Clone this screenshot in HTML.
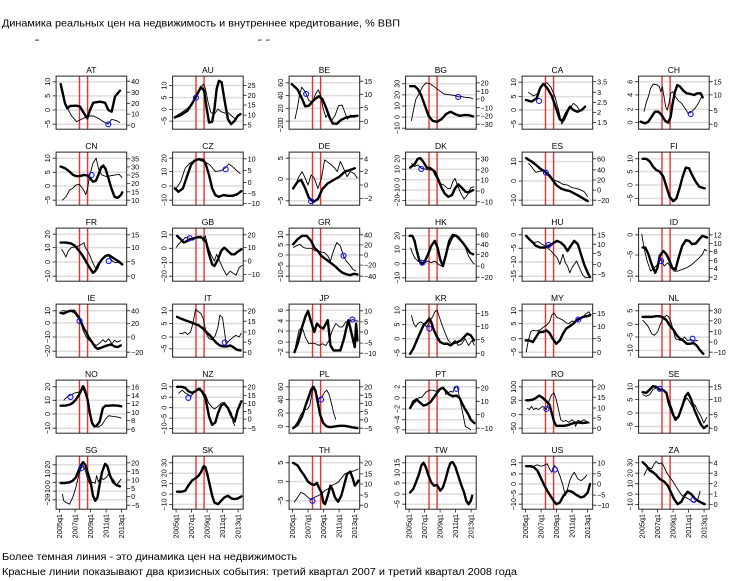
<!DOCTYPE html>
<html><head><meta charset="utf-8"><style>
html,body{margin:0;padding:0;background:#fff}
svg{display:block}
text{font-family:"Liberation Sans",sans-serif;fill:#000}
.t{font-size:8.5px;text-anchor:middle}
.g{stroke:#dcdcdc;stroke-width:1.5;fill:none}
.r{stroke:#f03030;stroke-width:1.4;fill:none}
.b{fill:none;stroke:#222;stroke-width:1}
.k{stroke:#222;stroke-width:0.8;fill:none}
.yl text{font-size:7.2px;text-anchor:middle}
.yr text{font-size:7.2px}
.xl text{font-size:7.3px;text-anchor:end}
.tc{fill:none;stroke:#000;stroke-width:2.4;vector-effect:non-scaling-stroke;stroke-linejoin:round;stroke-linecap:round}
.tn{fill:none;stroke:#000;stroke-width:0.9;vector-effect:non-scaling-stroke;stroke-linejoin:round}
.ci{fill:none;stroke:#1010ff;stroke-width:1.1;vector-effect:non-scaling-stroke}
</style></head><body>
<svg width="733" height="581" viewBox="0 0 733 581" xmlns="http://www.w3.org/2000/svg">
<rect width="733" height="581" fill="#fff"/>
<text x="2" y="26.5" font-size="10.3" textLength="398" lengthAdjust="spacingAndGlyphs">Динамика реальных цен на недвижимость и внутреннее кредитование, % ВВП</text>
<rect x="35" y="39.5" width="4" height="1.2" fill="#555"/>
<rect x="258" y="39.5" width="3.5" height="1.2" fill="#555"/>
<rect x="266" y="39.5" width="3.5" height="1.2" fill="#555"/>

<!-- ROW 0 -->
<g transform="translate(56.1,0)"><text class="t" x="35.3" y="72.9">AT</text>
<path class="g" d="M0 81.8H70.6M0 95.9H70.6M0 110H70.6M0 124.2H70.6"/>
<path class="r" d="M23.4 76.1V129.2M31.5 76.1V129.2"/>
<rect class="b" x="0" y="76.1" width="70.6" height="53.1"/>
<path class="k" d="M0 81.8h-3.5M0 95.9h-3.5M0 110h-3.5M0 124.2h-3.5M70.6 81.2h3.5M70.6 92.2h3.5M70.6 103.3h3.5M70.6 114.1h3.5M70.6 125.2h3.5"/>
<g class="yl"><text transform="translate(-6.3,81.8) rotate(-90)">10</text><text transform="translate(-6.3,95.9) rotate(-90)">5</text><text transform="translate(-6.3,110) rotate(-90)">0</text><text transform="translate(-6.3,124.2) rotate(-90)">−5</text></g>
<g class="yr"><text x="75" y="83.8">40</text><text x="75" y="94.8">30</text><text x="75" y="105.9">20</text><text x="75" y="116.7">10</text><text x="75" y="127.8">0</text></g></g>

<g transform="translate(172.6,0)"><text class="t" x="35.3" y="72.9">AU</text>
<path class="g" d="M0 85.5H70.6M0 97.6H70.6M0 109.4H70.6M0 121.1H70.6"/>
<path class="r" d="M23.4 76.1V129.2M31.5 76.1V129.2"/>
<rect class="b" x="0" y="76.1" width="70.6" height="53.1"/>
<path class="k" d="M0 85.5h-3.5M0 97.6h-3.5M0 109.4h-3.5M0 121.1h-3.5M70.6 85.5h3.5M70.6 95.3h3.5M70.6 105h3.5M70.6 115.1h3.5M70.6 124.8h3.5"/>
<g class="yl"><text transform="translate(-6.3,85.5) rotate(-90)">10</text><text transform="translate(-6.3,97.6) rotate(-90)">5</text><text transform="translate(-6.3,109.4) rotate(-90)">0</text><text transform="translate(-6.3,121.1) rotate(-90)">−5</text></g>
<g class="yr"><text x="75" y="88.1">25</text><text x="75" y="97.9">20</text><text x="75" y="107.6">15</text><text x="75" y="117.7">10</text><text x="75" y="127.4">5</text></g></g>

<g transform="translate(289.1,0)"><text class="t" x="35.3" y="72.9">BE</text>
<path class="g" d="M0 82.8H70.6M0 95.6H70.6M0 108.4H70.6M0 121.1H70.6"/>
<path class="r" d="M23.4 76.1V129.2M31.5 76.1V129.2"/>
<rect class="b" x="0" y="76.1" width="70.6" height="53.1"/>
<path class="k" d="M0 82.8h-3.5M0 95.6h-3.5M0 108.4h-3.5M0 121.1h-3.5M70.6 81.2h3.5M70.6 94.3h3.5M70.6 107.7h3.5M70.6 121.5h3.5"/>
<g class="yl"><text transform="translate(-6.3,82.8) rotate(-90)">60</text><text transform="translate(-6.3,95.6) rotate(-90)">40</text><text transform="translate(-6.3,108.4) rotate(-90)">20</text><text transform="translate(-6.3,119.5) rotate(-90)">0</text><text transform="translate(-6.3,126.5) rotate(-90)">−20</text></g>
<g class="yr"><text x="75" y="83.8">15</text><text x="75" y="96.9">10</text><text x="75" y="110.3">5</text><text x="75" y="124.1">0</text></g></g>

<g transform="translate(405.6,0)"><text class="t" x="35.3" y="72.9">BG</text>
<path class="g" d="M0 83.8H70.6M0 94.9H70.6M0 106H70.6M0 117.1H70.6M0 128.2H70.6"/>
<path class="r" d="M23.4 76.1V129.2M31.5 76.1V129.2"/>
<rect class="b" x="0" y="76.1" width="70.6" height="53.1"/>
<path class="k" d="M0 83.8h-3.5M0 94.9h-3.5M0 106h-3.5M0 117.1h-3.5M0 128.2h-3.5M70.6 82.8h3.5M70.6 91.2h3.5M70.6 99h3.5M70.6 107.7h3.5M70.6 115.8h3.5M70.6 124.2h3.5"/>
<g class="yl"><text transform="translate(-6.3,83.8) rotate(-90)">30</text><text transform="translate(-6.3,94.9) rotate(-90)">20</text><text transform="translate(-6.3,106) rotate(-90)">10</text><text transform="translate(-6.3,117.1) rotate(-90)">0</text><text transform="translate(-6.3,128.2) rotate(-90)">−10</text></g>
<g class="yr"><text x="75" y="85.4">20</text><text x="75" y="93.8">10</text><text x="75" y="101.6">0</text><text x="75" y="110.3">−10</text><text x="75" y="118.4">−20</text><text x="75" y="126.8">−30</text></g></g>

<g transform="translate(522.1,0)"><text class="t" x="35.3" y="72.9">CA</text>
<path class="g" d="M0 82.2H70.6M0 96.6H70.6M0 110H70.6M0 124.2H70.6"/>
<path class="r" d="M23.4 76.1V129.2M31.5 76.1V129.2"/>
<rect class="b" x="0" y="76.1" width="70.6" height="53.1"/>
<path class="k" d="M0 82.2h-3.5M0 96.6h-3.5M0 110h-3.5M0 124.2h-3.5M70.6 81.7h3.5M70.6 92.2h3.5M70.6 102.3h3.5M70.6 112.4h3.5M70.6 122.5h3.5"/>
<g class="yl"><text transform="translate(-6.3,82.2) rotate(-90)">10</text><text transform="translate(-6.3,96.6) rotate(-90)">5</text><text transform="translate(-6.3,110) rotate(-90)">0</text><text transform="translate(-6.3,124.2) rotate(-90)">−5</text></g>
<g class="yr"><text x="75" y="84.3">3.5</text><text x="75" y="94.8">3</text><text x="75" y="104.9">2.5</text><text x="75" y="115">2</text><text x="75" y="125.1">1.5</text></g></g>

<g transform="translate(638.6,0)"><text class="t" x="35.3" y="72.9">CH</text>
<path class="g" d="M0 81.7H70.6M0 94.9H70.6M0 109.4H70.6M0 122.5H70.6"/>
<path class="r" d="M23.4 76.1V129.2M31.5 76.1V129.2"/>
<rect class="b" x="0" y="76.1" width="70.6" height="53.1"/>
<path class="k" d="M0 81.7h-3.5M0 94.9h-3.5M0 109.4h-3.5M0 122.5h-3.5M70.6 81.7h3.5M70.6 94.9h3.5M70.6 110.4h3.5M70.6 124.2h3.5"/>
<g class="yl"><text transform="translate(-6.3,81.7) rotate(-90)">6</text><text transform="translate(-6.3,94.9) rotate(-90)">4</text><text transform="translate(-6.3,109.4) rotate(-90)">2</text><text transform="translate(-6.3,122.5) rotate(-90)">0</text></g>
<g class="yr"><text x="75" y="84.3">15</text><text x="75" y="97.5">10</text><text x="75" y="113">5</text><text x="75" y="126.8">0</text></g></g>

<!-- ROW 1 -->
<g transform="translate(56.1,0)"><text class="t" x="35.3" y="148.9">CN</text>
<path class="g" d="M0 158.2H70.6M0 172.3H70.6M0 186H70.6M0 200.2H70.6"/>
<path class="r" d="M23.4 152.1V205.2M31.5 152.1V205.2"/>
<rect class="b" x="0" y="152.1" width="70.6" height="53.1"/>
<path class="k" d="M0 158.2h-3.5M0 172.3h-3.5M0 186h-3.5M0 200.2h-3.5M70.6 158.8h3.5M70.6 166.9h3.5M70.6 175h3.5M70.6 183.4h3.5M70.6 191.8h3.5M70.6 200.2h3.5"/>
<g class="yl"><text transform="translate(-6.3,158.2) rotate(-90)">10</text><text transform="translate(-6.3,172.3) rotate(-90)">5</text><text transform="translate(-6.3,186) rotate(-90)">0</text><text transform="translate(-6.3,200.2) rotate(-90)">−5</text></g>
<g class="yr"><text x="75" y="161.4">35</text><text x="75" y="169.5">30</text><text x="75" y="177.6">25</text><text x="75" y="186">20</text><text x="75" y="194.4">15</text><text x="75" y="202.8">10</text></g></g>

<g transform="translate(172.6,0)"><text class="t" x="35.3" y="148.9">CZ</text>
<path class="g" d="M0 158.2H70.6M0 171.6H70.6M0 186H70.6M0 200.2H70.6"/>
<path class="r" d="M23.4 152.1V205.2M31.5 152.1V205.2"/>
<rect class="b" x="0" y="152.1" width="70.6" height="53.1"/>
<path class="k" d="M0 158.2h-3.5M0 171.6h-3.5M0 186h-3.5M0 200.2h-3.5M70.6 158.8h3.5M70.6 170.6h3.5M70.6 182.4h3.5M70.6 193.4h3.5M70.6 203.5h3.5"/>
<g class="yl"><text transform="translate(-6.3,158.2) rotate(-90)">20</text><text transform="translate(-6.3,171.6) rotate(-90)">10</text><text transform="translate(-6.3,186) rotate(-90)">0</text><text transform="translate(-6.3,200.2) rotate(-90)">−10</text></g>
<g class="yr"><text x="75" y="161.4">10</text><text x="75" y="173.2">5</text><text x="75" y="185">0</text><text x="75" y="196">−5</text><text x="75" y="206.1">−10</text></g></g>

<g transform="translate(289.1,0)"><text class="t" x="35.3" y="148.9">DE</text>
<path class="g" d="M0 158.2H70.6M0 179H70.6M0 200.8H70.6"/>
<path class="r" d="M23.4 152.1V205.2M31.5 152.1V205.2"/>
<rect class="b" x="0" y="152.1" width="70.6" height="53.1"/>
<path class="k" d="M0 158.2h-3.5M0 179h-3.5M0 200.8h-3.5M70.6 158.8h3.5M70.6 171.6h3.5M70.6 185h3.5M70.6 198.5h3.5"/>
<g class="yl"><text transform="translate(-6.3,158.2) rotate(-90)">5</text><text transform="translate(-6.3,179) rotate(-90)">0</text><text transform="translate(-6.3,200.8) rotate(-90)">−5</text></g>
<g class="yr"><text x="75" y="161.4">4</text><text x="75" y="174.2">2</text><text x="75" y="187.6">0</text><text x="75" y="201.1">−2</text></g></g>

<g transform="translate(405.6,0)"><text class="t" x="35.3" y="148.9">DK</text>
<path class="g" d="M0 158.8H70.6M0 169.2H70.6M0 179.7H70.6M0 190.1H70.6M0 200.5H70.6"/>
<path class="r" d="M23.4 152.1V205.2M31.5 152.1V205.2"/>
<rect class="b" x="0" y="152.1" width="70.6" height="53.1"/>
<path class="k" d="M0 158.8h-3.5M0 169.2h-3.5M0 179.7h-3.5M0 190.1h-3.5M0 200.5h-3.5M70.6 158.8h3.5M70.6 169.9h3.5M70.6 180h3.5M70.6 191.1h3.5M70.6 201.8h3.5"/>
<g class="yl"><text transform="translate(-6.3,158.8) rotate(-90)">20</text><text transform="translate(-6.3,169.2) rotate(-90)">10</text><text transform="translate(-6.3,179.7) rotate(-90)">0</text><text transform="translate(-6.3,190.1) rotate(-90)">−10</text><text transform="translate(-6.3,200.5) rotate(-90)">−20</text></g>
<g class="yr"><text x="75" y="161.4">30</text><text x="75" y="172.5">20</text><text x="75" y="182.6">10</text><text x="75" y="193.7">0</text><text x="75" y="204.4">−10</text></g></g>

<g transform="translate(522.1,0)"><text class="t" x="35.3" y="148.9">ES</text>
<path class="g" d="M0 161.5H70.6M0 181H70.6M0 200.2H70.6"/>
<path class="r" d="M23.4 152.1V205.2M31.5 152.1V205.2"/>
<rect class="b" x="0" y="152.1" width="70.6" height="53.1"/>
<path class="k" d="M0 161.5h-3.5M0 181h-3.5M0 200.2h-3.5M70.6 158.8h3.5M70.6 169.9h3.5M70.6 180h3.5M70.6 190.1h3.5M70.6 200.2h3.5"/>
<g class="yl"><text transform="translate(-6.3,161.5) rotate(-90)">10</text><text transform="translate(-6.3,181) rotate(-90)">0</text><text transform="translate(-6.3,200.2) rotate(-90)">−10</text></g>
<g class="yr"><text x="75" y="161.4">60</text><text x="75" y="172.5">40</text><text x="75" y="182.6">20</text><text x="75" y="192.7">0</text><text x="75" y="202.8">−20</text></g></g>

<g transform="translate(638.6,0)"><text class="t" x="35.3" y="148.9">FI</text>
<path class="g" d="M0 158.8H70.6M0 171.6H70.6M0 185H70.6M0 198.5H70.6"/>
<path class="r" d="M23.4 152.1V205.2M31.5 152.1V205.2"/>
<rect class="b" x="0" y="152.1" width="70.6" height="53.1"/>
<path class="k" d="M0 158.8h-3.5M0 171.6h-3.5M0 185h-3.5M0 198.5h-3.5"/>
<g class="yl"><text transform="translate(-6.3,158.8) rotate(-90)">10</text><text transform="translate(-6.3,171.6) rotate(-90)">5</text><text transform="translate(-6.3,185) rotate(-90)">0</text><text transform="translate(-6.3,198.5) rotate(-90)">−5</text></g></g>

<!-- ROW 2 -->
<g transform="translate(56.1,0)"><text class="t" x="35.3" y="224.9">FR</text>
<path class="g" d="M0 234.2H70.6M0 247.6H70.6M0 262H70.6M0 276.2H70.6"/>
<path class="r" d="M23.4 228.1V281.2M31.5 228.1V281.2"/>
<rect class="b" x="0" y="228.1" width="70.6" height="53.1"/>
<path class="k" d="M0 234.2h-3.5M0 247.6h-3.5M0 262h-3.5M0 276.2h-3.5M70.6 234.8h3.5M70.6 247.6h3.5M70.6 261.7h3.5M70.6 276.2h3.5"/>
<g class="yl"><text transform="translate(-6.3,234.2) rotate(-90)">20</text><text transform="translate(-6.3,247.6) rotate(-90)">10</text><text transform="translate(-6.3,262) rotate(-90)">0</text><text transform="translate(-6.3,276.2) rotate(-90)">−10</text></g>
<g class="yr"><text x="75" y="237.4">15</text><text x="75" y="250.2">10</text><text x="75" y="264.3">5</text><text x="75" y="278.8">0</text></g></g>

<g transform="translate(172.6,0)"><text class="t" x="35.3" y="224.9">GB</text>
<path class="g" d="M0 234.8H70.6M0 248.3H70.6M0 262.7H70.6M0 276.2H70.6"/>
<path class="r" d="M23.4 228.1V281.2M31.5 228.1V281.2"/>
<rect class="b" x="0" y="228.1" width="70.6" height="53.1"/>
<path class="k" d="M0 234.8h-3.5M0 248.3h-3.5M0 262.7h-3.5M0 276.2h-3.5M70.6 234.8h3.5M70.6 247.6h3.5M70.6 261h3.5M70.6 274.5h3.5"/>
<g class="yl"><text transform="translate(-6.3,234.8) rotate(-90)">10</text><text transform="translate(-6.3,248.3) rotate(-90)">0</text><text transform="translate(-6.3,262.7) rotate(-90)">−10</text><text transform="translate(-6.3,276.2) rotate(-90)">−20</text></g>
<g class="yr"><text x="75" y="237.4">20</text><text x="75" y="250.2">10</text><text x="75" y="263.6">0</text><text x="75" y="277.1">−10</text></g></g>

<g transform="translate(289.1,0)"><text class="t" x="35.3" y="224.9">GR</text>
<path class="g" d="M0 234.8H70.6M0 244.9H70.6M0 255H70.6M0 266.1H70.6M0 276.2H70.6"/>
<path class="r" d="M23.4 228.1V281.2M31.5 228.1V281.2"/>
<rect class="b" x="0" y="228.1" width="70.6" height="53.1"/>
<path class="k" d="M0 234.8h-3.5M0 244.9h-3.5M0 255h-3.5M0 266.1h-3.5M0 276.2h-3.5M70.6 234.8h3.5M70.6 244.9h3.5M70.6 255h3.5M70.6 265.1h3.5M70.6 276.2h3.5"/>
<g class="yl"><text transform="translate(-6.3,234.8) rotate(-90)">10</text><text transform="translate(-6.3,244.9) rotate(-90)">5</text><text transform="translate(-6.3,255) rotate(-90)">0</text><text transform="translate(-6.3,266.1) rotate(-90)">−5</text><text transform="translate(-6.3,276.2) rotate(-90)">−10</text></g>
<g class="yr"><text x="75" y="237.4">40</text><text x="75" y="247.5">20</text><text x="75" y="257.6">0</text><text x="75" y="267.7">−20</text><text x="75" y="278.8">−40</text></g></g>

<g transform="translate(405.6,0)"><text class="t" x="35.3" y="224.9">HK</text>
<path class="g" d="M0 235.8H70.6M0 249.3H70.6M0 263.7H70.6M0 277.8H70.6"/>
<path class="r" d="M23.4 228.1V281.2M31.5 228.1V281.2"/>
<rect class="b" x="0" y="228.1" width="70.6" height="53.1"/>
<path class="k" d="M0 235.8h-3.5M0 249.3h-3.5M0 263.7h-3.5M0 277.8h-3.5M70.6 234.8h3.5M70.6 244.2h3.5M70.6 254.3h3.5M70.6 266.1h3.5M70.6 277.2h3.5"/>
<g class="yl"><text transform="translate(-6.3,235.8) rotate(-90)">20</text><text transform="translate(-6.3,249.3) rotate(-90)">10</text><text transform="translate(-6.3,263.7) rotate(-90)">0</text><text transform="translate(-6.3,277.8) rotate(-90)">−10</text></g>
<g class="yr"><text x="75" y="237.4">60</text><text x="75" y="246.8">40</text><text x="75" y="256.9">20</text><text x="75" y="268.7">0</text><text x="75" y="279.8">−20</text></g></g>

<g transform="translate(522.1,0)"><text class="t" x="35.3" y="224.9">HU</text>
<path class="g" d="M0 234.8H70.6M0 248.3H70.6M0 262H70.6M0 276.2H70.6"/>
<path class="r" d="M23.4 228.1V281.2M31.5 228.1V281.2"/>
<rect class="b" x="0" y="228.1" width="70.6" height="53.1"/>
<path class="k" d="M0 234.8h-3.5M0 248.3h-3.5M0 262h-3.5M0 276.2h-3.5M70.6 234.8h3.5M70.6 244.2h3.5M70.6 253.6h3.5M70.6 264.4h3.5M70.6 274.5h3.5"/>
<g class="yl"><text transform="translate(-6.3,234.8) rotate(-90)">0</text><text transform="translate(-6.3,248.3) rotate(-90)">−5</text><text transform="translate(-6.3,262) rotate(-90)">−10</text><text transform="translate(-6.3,276.2) rotate(-90)">−15</text></g>
<g class="yr"><text x="75" y="237.4">15</text><text x="75" y="246.8">10</text><text x="75" y="256.2">5</text><text x="75" y="267">0</text><text x="75" y="277.1">−5</text></g></g>

<g transform="translate(638.6,0)"><text class="t" x="35.3" y="224.9">ID</text>
<path class="g" d="M0 234.8H70.6M0 255H70.6M0 276.2H70.6"/>
<path class="r" d="M23.4 228.1V281.2M31.5 228.1V281.2"/>
<rect class="b" x="0" y="228.1" width="70.6" height="53.1"/>
<path class="k" d="M0 234.8h-3.5M0 255h-3.5M0 276.2h-3.5M70.6 234.8h3.5M70.6 243.6h3.5M70.6 251.6h3.5M70.6 260.4h3.5M70.6 268.4h3.5M70.6 277.2h3.5"/>
<g class="yl"><text transform="translate(-6.3,234.8) rotate(-90)">0</text><text transform="translate(-6.3,255) rotate(-90)">−5</text><text transform="translate(-6.3,276.2) rotate(-90)">−10</text></g>
<g class="yr"><text x="75" y="237.4">12</text><text x="75" y="246.2">10</text><text x="75" y="254.2">8</text><text x="75" y="263">6</text><text x="75" y="271">4</text><text x="75" y="279.8">2</text></g></g>

<!-- ROW 3 -->
<g transform="translate(56.1,0)"><text class="t" x="35.3" y="300.9">IE</text>
<path class="g" d="M0 310.8H70.6M0 322.9H70.6M0 337H70.6M0 351.2H70.6"/>
<path class="r" d="M23.4 304.1V357.2M31.5 304.1V357.2"/>
<rect class="b" x="0" y="304.1" width="70.6" height="53.1"/>
<path class="k" d="M0 310.8h-3.5M0 322.9h-3.5M0 337h-3.5M0 351.2h-3.5M70.6 310.8h3.5M70.6 323.6h3.5M70.6 337h3.5M70.6 352.2h3.5"/>
<g class="yl"><text transform="translate(-6.3,310.8) rotate(-90)">10</text><text transform="translate(-6.3,322.9) rotate(-90)">0</text><text transform="translate(-6.3,337) rotate(-90)">−10</text><text transform="translate(-6.3,351.2) rotate(-90)">−20</text></g>
<g class="yr"><text x="75" y="313.4">40</text><text x="75" y="326.2">20</text><text x="75" y="339.6">0</text><text x="75" y="354.8">−20</text></g></g>

<g transform="translate(172.6,0)"><text class="t" x="35.3" y="300.9">IT</text>
<path class="g" d="M0 310.8H70.6M0 323.6H70.6M0 337H70.6M0 348.8H70.6"/>
<path class="r" d="M23.4 304.1V357.2M31.5 304.1V357.2"/>
<rect class="b" x="0" y="304.1" width="70.6" height="53.1"/>
<path class="k" d="M0 310.8h-3.5M0 323.6h-3.5M0 337h-3.5M0 348.8h-3.5M70.6 310.8h3.5M70.6 321.2h3.5M70.6 332h3.5M70.6 342.1h3.5M70.6 352.2h3.5"/>
<g class="yl"><text transform="translate(-6.3,310.8) rotate(-90)">10</text><text transform="translate(-6.3,323.6) rotate(-90)">5</text><text transform="translate(-6.3,337) rotate(-90)">0</text><text transform="translate(-6.3,348.8) rotate(-90)">−5</text></g>
<g class="yr"><text x="75" y="313.4">20</text><text x="75" y="323.8">15</text><text x="75" y="334.6">10</text><text x="75" y="344.7">5</text><text x="75" y="354.8">0</text></g></g>

<g transform="translate(289.1,0)"><text class="t" x="35.3" y="300.9">JP</text>
<path class="g" d="M0 310.2H70.6M0 320.9H70.6M0 331H70.6M0 342.1H70.6M0 352.2H70.6"/>
<path class="r" d="M23.4 304.1V357.2M31.5 304.1V357.2"/>
<rect class="b" x="0" y="304.1" width="70.6" height="53.1"/>
<path class="k" d="M0 310.2h-3.5M0 320.9h-3.5M0 331h-3.5M0 342.1h-3.5M0 352.2h-3.5M70.6 310.8h3.5M70.6 321.9h3.5M70.6 332h3.5M70.6 343.1h3.5M70.6 353.2h3.5"/>
<g class="yl"><text transform="translate(-6.3,310.2) rotate(-90)">6</text><text transform="translate(-6.3,320.9) rotate(-90)">4</text><text transform="translate(-6.3,331) rotate(-90)">2</text><text transform="translate(-6.3,342.1) rotate(-90)">0</text><text transform="translate(-6.3,352.2) rotate(-90)">−2</text></g>
<g class="yr"><text x="75" y="313.4">10</text><text x="75" y="324.5">5</text><text x="75" y="334.6">0</text><text x="75" y="345.7">−5</text><text x="75" y="355.8">−10</text></g></g>

<g transform="translate(405.6,0)"><text class="t" x="35.3" y="300.9">KR</text>
<path class="g" d="M0 310.2H70.6M0 324.6H70.6M0 338.7H70.6M0 353.2H70.6"/>
<path class="r" d="M23.4 304.1V357.2M31.5 304.1V357.2"/>
<rect class="b" x="0" y="304.1" width="70.6" height="53.1"/>
<path class="k" d="M0 310.2h-3.5M0 324.6h-3.5M0 338.7h-3.5M0 353.2h-3.5M70.6 313.5h3.5M70.6 326.3h3.5M70.6 339.7h3.5M70.6 353.2h3.5"/>
<g class="yl"><text transform="translate(-6.3,310.2) rotate(-90)">10</text><text transform="translate(-6.3,324.6) rotate(-90)">5</text><text transform="translate(-6.3,338.7) rotate(-90)">0</text><text transform="translate(-6.3,353.2) rotate(-90)">−5</text></g>
<g class="yr"><text x="75" y="316.1">15</text><text x="75" y="328.9">10</text><text x="75" y="342.3">5</text><text x="75" y="355.8">0</text></g></g>

<g transform="translate(522.1,0)"><text class="t" x="35.3" y="300.9">MY</text>
<path class="g" d="M0 310.8H70.6M0 323.6H70.6M0 338.7H70.6M0 352.2H70.6"/>
<path class="r" d="M23.4 304.1V357.2M31.5 304.1V357.2"/>
<rect class="b" x="0" y="304.1" width="70.6" height="53.1"/>
<path class="k" d="M0 310.8h-3.5M0 323.6h-3.5M0 338.7h-3.5M0 352.2h-3.5M70.6 313.5h3.5M70.6 326.3h3.5M70.6 338.7h3.5M70.6 352.2h3.5"/>
<g class="yl"><text transform="translate(-6.3,310.8) rotate(-90)">10</text><text transform="translate(-6.3,323.6) rotate(-90)">5</text><text transform="translate(-6.3,338.7) rotate(-90)">0</text><text transform="translate(-6.3,352.2) rotate(-90)">−5</text></g>
<g class="yr"><text x="75" y="316.1">15</text><text x="75" y="328.9">10</text><text x="75" y="341.3">5</text><text x="75" y="354.8">0</text></g></g>

<g transform="translate(638.6,0)"><text class="t" x="35.3" y="300.9">NL</text>
<path class="g" d="M0 310.8H70.6M0 324.3H70.6M0 337H70.6M0 350.5H70.6"/>
<path class="r" d="M23.4 304.1V357.2M31.5 304.1V357.2"/>
<rect class="b" x="0" y="304.1" width="70.6" height="53.1"/>
<path class="k" d="M0 310.8h-3.5M0 324.3h-3.5M0 337h-3.5M0 350.5h-3.5M70.6 310.8h3.5M70.6 320.9h3.5M70.6 331.7h3.5M70.6 342.1h3.5M70.6 352.2h3.5"/>
<g class="yl"><text transform="translate(-6.3,310.8) rotate(-90)">5</text><text transform="translate(-6.3,324.3) rotate(-90)">0</text><text transform="translate(-6.3,337) rotate(-90)">−5</text><text transform="translate(-6.3,350.5) rotate(-90)">−10</text></g>
<g class="yr"><text x="75" y="313.4">30</text><text x="75" y="323.5">20</text><text x="75" y="334.3">10</text><text x="75" y="344.7">0</text><text x="75" y="354.8">−10</text></g></g>

<!-- ROW 4 -->
<g transform="translate(56.1,0)"><text class="t" x="35.3" y="376.9">NO</text>
<path class="g" d="M0 386.8H70.6M0 400.3H70.6M0 414H70.6M0 428.2H70.6"/>
<path class="r" d="M23.4 380.1V433.2M31.5 380.1V433.2"/>
<rect class="b" x="0" y="380.1" width="70.6" height="53.1"/>
<path class="k" d="M0 386.8h-3.5M0 400.3h-3.5M0 414h-3.5M0 428.2h-3.5M70.6 386.8h3.5M70.6 395.6h3.5M70.6 403.6h3.5M70.6 412.4h3.5M70.6 420.4h3.5M70.6 429.2h3.5"/>
<g class="yl"><text transform="translate(-6.3,386.8) rotate(-90)">20</text><text transform="translate(-6.3,400.3) rotate(-90)">10</text><text transform="translate(-6.3,414) rotate(-90)">0</text><text transform="translate(-6.3,428.2) rotate(-90)">−10</text></g>
<g class="yr"><text x="75" y="389.4">16</text><text x="75" y="398.2">14</text><text x="75" y="406.2">12</text><text x="75" y="415">10</text><text x="75" y="423">8</text><text x="75" y="431.8">6</text></g></g>

<g transform="translate(172.6,0)"><text class="t" x="35.3" y="376.9">NZ</text>
<path class="g" d="M0 386.8H70.6M0 397.2H70.6M0 407.7H70.6M0 418.1H70.6M0 428.5H70.6"/>
<path class="r" d="M23.4 380.1V433.2M31.5 380.1V433.2"/>
<rect class="b" x="0" y="380.1" width="70.6" height="53.1"/>
<path class="k" d="M0 386.8h-3.5M0 397.2h-3.5M0 407.7h-3.5M0 418.1h-3.5M0 428.5h-3.5M70.6 386.8h3.5M70.6 395.6h3.5M70.6 403.6h3.5M70.6 411.4h3.5M70.6 419.1h3.5M70.6 428.2h3.5"/>
<g class="yl"><text transform="translate(-6.3,386.8) rotate(-90)">10</text><text transform="translate(-6.3,397.2) rotate(-90)">5</text><text transform="translate(-6.3,407.7) rotate(-90)">0</text><text transform="translate(-6.3,418.1) rotate(-90)">−5</text><text transform="translate(-6.3,428.5) rotate(-90)">−10</text></g>
<g class="yr"><text x="75" y="389.4">20</text><text x="75" y="398.2">15</text><text x="75" y="406.2">10</text><text x="75" y="414">5</text><text x="75" y="421.7">0</text><text x="75" y="430.8">−5</text></g></g>

<g transform="translate(289.1,0)"><text class="t" x="35.3" y="376.9">PL</text>
<path class="g" d="M0 386.8H70.6M0 399.6H70.6M0 413H70.6M0 426.5H70.6"/>
<path class="r" d="M23.4 380.1V433.2M31.5 380.1V433.2"/>
<rect class="b" x="0" y="380.1" width="70.6" height="53.1"/>
<path class="k" d="M0 386.8h-3.5M0 399.6h-3.5M0 413h-3.5M0 426.5h-3.5M70.6 386.8h3.5M70.6 395.2h3.5M70.6 403.3h3.5M70.6 411.7h3.5M70.6 419.8h3.5M70.6 428.2h3.5"/>
<g class="yl"><text transform="translate(-6.3,386.8) rotate(-90)">60</text><text transform="translate(-6.3,399.6) rotate(-90)">40</text><text transform="translate(-6.3,413) rotate(-90)">20</text><text transform="translate(-6.3,426.5) rotate(-90)">0</text></g>
<g class="yr"><text x="75" y="389.4">20</text><text x="75" y="397.8">15</text><text x="75" y="405.9">10</text><text x="75" y="414.3">5</text><text x="75" y="422.4">0</text><text x="75" y="430.8">−5</text></g></g>

<g transform="translate(405.6,0)"><text class="t" x="35.3" y="376.9">PT</text>
<path class="g" d="M0 386.8H70.6M0 397.9H70.6M0 409H70.6M0 419.8H70.6M0 429.8H70.6"/>
<path class="r" d="M23.4 380.1V433.2M31.5 380.1V433.2"/>
<rect class="b" x="0" y="380.1" width="70.6" height="53.1"/>
<path class="k" d="M0 386.8h-3.5M0 397.9h-3.5M0 409h-3.5M0 419.8h-3.5M0 429.8h-3.5M70.6 387.8h3.5M70.6 401.3h3.5M70.6 414.7h3.5M70.6 428.2h3.5"/>
<g class="yl"><text transform="translate(-6.3,386.8) rotate(-90)">2</text><text transform="translate(-6.3,397.9) rotate(-90)">0</text><text transform="translate(-6.3,409) rotate(-90)">−2</text><text transform="translate(-6.3,419.8) rotate(-90)">−4</text><text transform="translate(-6.3,429.8) rotate(-90)">−6</text></g>
<g class="yr"><text x="75" y="390.4">20</text><text x="75" y="403.9">10</text><text x="75" y="417.3">0</text><text x="75" y="430.8">−10</text></g></g>

<g transform="translate(522.1,0)"><text class="t" x="35.3" y="376.9">RO</text>
<path class="g" d="M0 386.8H70.6M0 400.3H70.6M0 414.7H70.6M0 428.2H70.6"/>
<path class="r" d="M23.4 380.1V433.2M31.5 380.1V433.2"/>
<rect class="b" x="0" y="380.1" width="70.6" height="53.1"/>
<path class="k" d="M0 386.8h-3.5M0 400.3h-3.5M0 414.7h-3.5M0 428.2h-3.5M70.6 386.8h3.5M70.6 397.2h3.5M70.6 408h3.5M70.6 418.1h3.5M70.6 428.2h3.5"/>
<g class="yl"><text transform="translate(-6.3,386.8) rotate(-90)">100</text><text transform="translate(-6.3,400.3) rotate(-90)">50</text><text transform="translate(-6.3,414.7) rotate(-90)">0</text><text transform="translate(-6.3,428.2) rotate(-90)">−50</text></g>
<g class="yr"><text x="75" y="389.4">20</text><text x="75" y="399.8">15</text><text x="75" y="410.6">10</text><text x="75" y="420.7">5</text><text x="75" y="430.8">0</text></g></g>

<g transform="translate(638.6,0)"><text class="t" x="35.3" y="376.9">SE</text>
<path class="g" d="M0 386.8H70.6M0 399.6H70.6M0 413H70.6M0 426.5H70.6"/>
<path class="r" d="M23.4 380.1V433.2M31.5 380.1V433.2"/>
<rect class="b" x="0" y="380.1" width="70.6" height="53.1"/>
<path class="k" d="M0 386.8h-3.5M0 399.6h-3.5M0 413h-3.5M0 426.5h-3.5M70.6 386.8h3.5M70.6 399.6h3.5M70.6 414.7h3.5M70.6 428.2h3.5"/>
<g class="yl"><text transform="translate(-6.3,386.8) rotate(-90)">10</text><text transform="translate(-6.3,399.6) rotate(-90)">5</text><text transform="translate(-6.3,413) rotate(-90)">0</text><text transform="translate(-6.3,426.5) rotate(-90)">−5</text></g>
<g class="yr"><text x="75" y="389.4">15</text><text x="75" y="402.2">10</text><text x="75" y="417.3">5</text><text x="75" y="430.8">0</text></g></g>

<!-- ROW 5 -->
<g transform="translate(56.1,0)"><text class="t" x="35.3" y="452.9">SG</text>
<path class="g" d="M0 464.8H70.6M0 473.6H70.6M0 482.3H70.6M0 491.1H70.6M0 499.8H70.6"/>
<path class="r" d="M23.4 456.1V509.2M31.5 456.1V509.2"/>
<rect class="b" x="0" y="456.1" width="70.6" height="53.1"/>
<path class="k" d="M0 464.8h-3.5M0 473.6h-3.5M0 482.3h-3.5M0 491.1h-3.5M0 499.8h-3.5M70.6 462.8h3.5M70.6 471.6h3.5M70.6 480h3.5M70.6 488.4h3.5M70.6 496.4h3.5M70.6 505.2h3.5M3.5 509.2v3.3M19 509.2v3.3M34.5 509.2v3.3M50 509.2v3.3M65.5 509.2v3.3"/>
<g class="yl"><text transform="translate(-6.3,464.8) rotate(-90)">20</text><text transform="translate(-6.3,473.6) rotate(-90)">10</text><text transform="translate(-6.3,482.3) rotate(-90)">0</text><text transform="translate(-6.3,491.1) rotate(-90)">−10</text><text transform="translate(-6.3,499.8) rotate(-90)">−20</text></g>
<g class="yr"><text x="75" y="465.4">20</text><text x="75" y="474.2">15</text><text x="75" y="482.6">10</text><text x="75" y="491">5</text><text x="75" y="499">0</text><text x="75" y="507.8">−5</text></g>
<g class="xl"><text transform="translate(6.1,514) rotate(-90)">2005q1</text><text transform="translate(21.6,514) rotate(-90)">2007q1</text><text transform="translate(37.1,514) rotate(-90)">2009q1</text><text transform="translate(52.6,514) rotate(-90)">2011q1</text><text transform="translate(68.1,514) rotate(-90)">2013q1</text></g></g>

<g transform="translate(172.6,0)"><text class="t" x="35.3" y="452.9">SK</text>
<path class="g" d="M0 462.8H70.6M0 473.2H70.6M0 483.7H70.6M0 494.1H70.6M0 504.5H70.6"/>
<path class="r" d="M23.4 456.1V509.2M31.5 456.1V509.2"/>
<rect class="b" x="0" y="456.1" width="70.6" height="53.1"/>
<path class="k" d="M0 462.8h-3.5M0 473.2h-3.5M0 483.7h-3.5M0 494.1h-3.5M0 504.5h-3.5M3.5 509.2v3.3M19 509.2v3.3M34.5 509.2v3.3M50 509.2v3.3M65.5 509.2v3.3"/>
<g class="yl"><text transform="translate(-6.3,462.8) rotate(-90)">30</text><text transform="translate(-6.3,473.2) rotate(-90)">20</text><text transform="translate(-6.3,483.7) rotate(-90)">10</text><text transform="translate(-6.3,494.1) rotate(-90)">0</text><text transform="translate(-6.3,504.5) rotate(-90)">−10</text></g>
<g class="xl"><text transform="translate(6.1,514) rotate(-90)">2005q1</text><text transform="translate(21.6,514) rotate(-90)">2007q1</text><text transform="translate(37.1,514) rotate(-90)">2009q1</text><text transform="translate(52.6,514) rotate(-90)">2011q1</text><text transform="translate(68.1,514) rotate(-90)">2013q1</text></g></g>

<g transform="translate(289.1,0)"><text class="t" x="35.3" y="452.9">TH</text>
<path class="g" d="M0 462.8H70.6M0 481.6H70.6M0 500.8H70.6"/>
<path class="r" d="M23.4 456.1V509.2M31.5 456.1V509.2"/>
<rect class="b" x="0" y="456.1" width="70.6" height="53.1"/>
<path class="k" d="M0 462.8h-3.5M0 481.6h-3.5M0 500.8h-3.5M70.6 462.8h3.5M70.6 473.9h3.5M70.6 484h3.5M70.6 495.1h3.5M70.6 505.2h3.5M3.5 509.2v3.3M19 509.2v3.3M34.5 509.2v3.3M50 509.2v3.3M65.5 509.2v3.3"/>
<g class="yl"><text transform="translate(-6.3,462.8) rotate(-90)">5</text><text transform="translate(-6.3,481.6) rotate(-90)">0</text><text transform="translate(-6.3,500.8) rotate(-90)">−5</text></g>
<g class="yr"><text x="75" y="465.4">20</text><text x="75" y="476.5">15</text><text x="75" y="486.6">10</text><text x="75" y="497.7">5</text><text x="75" y="507.8">0</text></g>
<g class="xl"><text transform="translate(6.1,514) rotate(-90)">2005q1</text><text transform="translate(21.6,514) rotate(-90)">2007q1</text><text transform="translate(37.1,514) rotate(-90)">2009q1</text><text transform="translate(52.6,514) rotate(-90)">2011q1</text><text transform="translate(68.1,514) rotate(-90)">2013q1</text></g></g>

<g transform="translate(405.6,0)"><text class="t" x="35.3" y="452.9">TW</text>
<path class="g" d="M0 462.8H70.6M0 472.9H70.6M0 483H70.6M0 494.1H70.6M0 504.2H70.6"/>
<path class="r" d="M23.4 456.1V509.2M31.5 456.1V509.2"/>
<rect class="b" x="0" y="456.1" width="70.6" height="53.1"/>
<path class="k" d="M0 462.8h-3.5M0 472.9h-3.5M0 483h-3.5M0 494.1h-3.5M0 504.2h-3.5M3.5 509.2v3.3M19 509.2v3.3M34.5 509.2v3.3M50 509.2v3.3M65.5 509.2v3.3"/>
<g class="yl"><text transform="translate(-6.3,462.8) rotate(-90)">15</text><text transform="translate(-6.3,472.9) rotate(-90)">10</text><text transform="translate(-6.3,483) rotate(-90)">5</text><text transform="translate(-6.3,494.1) rotate(-90)">0</text><text transform="translate(-6.3,504.2) rotate(-90)">−5</text></g>
<g class="xl"><text transform="translate(6.1,514) rotate(-90)">2005q1</text><text transform="translate(21.6,514) rotate(-90)">2007q1</text><text transform="translate(37.1,514) rotate(-90)">2009q1</text><text transform="translate(52.6,514) rotate(-90)">2011q1</text><text transform="translate(68.1,514) rotate(-90)">2013q1</text></g></g>

<g transform="translate(522.1,0)"><text class="t" x="35.3" y="452.9">US</text>
<path class="g" d="M0 462.8H70.6M0 473.9H70.6M0 484H70.6M0 494.1H70.6M0 504.2H70.6"/>
<path class="r" d="M23.4 456.1V509.2M31.5 456.1V509.2"/>
<rect class="b" x="0" y="456.1" width="70.6" height="53.1"/>
<path class="k" d="M0 462.8h-3.5M0 473.9h-3.5M0 484h-3.5M0 494.1h-3.5M0 504.2h-3.5M70.6 462.8h3.5M70.6 473.9h3.5M70.6 484h3.5M70.6 495.1h3.5M70.6 505.2h3.5M3.5 509.2v3.3M19 509.2v3.3M34.5 509.2v3.3M50 509.2v3.3M65.5 509.2v3.3"/>
<g class="yl"><text transform="translate(-6.3,462.8) rotate(-90)">10</text><text transform="translate(-6.3,473.9) rotate(-90)">5</text><text transform="translate(-6.3,484) rotate(-90)">0</text><text transform="translate(-6.3,494.1) rotate(-90)">−5</text><text transform="translate(-6.3,504.2) rotate(-90)">−10</text></g>
<g class="yr"><text x="75" y="465.4">10</text><text x="75" y="476.5">5</text><text x="75" y="486.6">0</text><text x="75" y="497.7">−5</text><text x="75" y="507.8">−10</text></g>
<g class="xl"><text transform="translate(6.1,514) rotate(-90)">2005q1</text><text transform="translate(21.6,514) rotate(-90)">2007q1</text><text transform="translate(37.1,514) rotate(-90)">2009q1</text><text transform="translate(52.6,514) rotate(-90)">2011q1</text><text transform="translate(68.1,514) rotate(-90)">2013q1</text></g></g>

<g transform="translate(638.6,0)"><text class="t" x="35.3" y="452.9">ZA</text>
<path class="g" d="M0 462.8H70.6M0 473.2H70.6M0 483.7H70.6M0 494.1H70.6M0 504.5H70.6"/>
<path class="r" d="M23.4 456.1V509.2M31.5 456.1V509.2"/>
<rect class="b" x="0" y="456.1" width="70.6" height="53.1"/>
<path class="k" d="M0 462.8h-3.5M0 473.2h-3.5M0 483.7h-3.5M0 494.1h-3.5M0 504.5h-3.5M70.6 462.8h3.5M70.6 473.2h3.5M70.6 483.7h3.5M70.6 494.1h3.5M70.6 504.5h3.5M3.5 509.2v3.3M19 509.2v3.3M34.5 509.2v3.3M50 509.2v3.3M65.5 509.2v3.3"/>
<g class="yl"><text transform="translate(-6.3,462.8) rotate(-90)">30</text><text transform="translate(-6.3,473.2) rotate(-90)">20</text><text transform="translate(-6.3,483.7) rotate(-90)">10</text><text transform="translate(-6.3,494.1) rotate(-90)">0</text><text transform="translate(-6.3,504.5) rotate(-90)">−10</text></g>
<g class="yr"><text x="75" y="465.4">4</text><text x="75" y="475.8">3</text><text x="75" y="486.3">2</text><text x="75" y="496.7">1</text><text x="75" y="507.1">0</text></g>
<g class="xl"><text transform="translate(6.1,514) rotate(-90)">2005q1</text><text transform="translate(21.6,514) rotate(-90)">2007q1</text><text transform="translate(37.1,514) rotate(-90)">2009q1</text><text transform="translate(52.6,514) rotate(-90)">2011q1</text><text transform="translate(68.1,514) rotate(-90)">2013q1</text></g></g>

<!-- DATA: AT (zoom3 coords) -->
<g transform="translate(30,60) scale(0.33333)">
<polyline class="tn" points="95,85 100,110 110,140 125,168 140,185 150,180 160,175 175,168 190,168 205,175 220,185 235,192 245,178 260,182 270,188"/>
<polyline class="tc" points="92,72 105,130 112,145 120,138 140,137 150,140 165,165 172,175 180,150 190,128 210,125 225,128 235,150 245,155 255,110 270,92"/>
<circle class="ci" cx="235" cy="193" r="7.5"/>
</g>
<!-- DATA: CH (zoom11 coords) -->
<g transform="translate(520,60) scale(0.33333)">
<polyline class="tn" points="372,155 378,130 385,110 392,85 400,72 410,74 418,80 422,95 427,80 432,110 437,140 442,150 447,130 452,100 458,95 466,110 475,122 485,130 495,145 505,160 515,155 525,145 535,130 545,110"/>
<polyline class="tc" points="362,185 375,190 385,185 395,170 405,155 415,155 425,165 435,182 445,188 452,170 458,130 465,95 472,75 480,80 490,92 500,100 512,102 522,105 532,100 542,100 548,112"/>
<circle class="ci" cx="512" cy="162" r="7.5"/>
</g>

<!-- DATA ROW 0 -->
<g transform="translate(30,62) scale(0.4498,0.336)">
<polyline class="tn" points="322,163 335,152 348,140 358,128 368,100 376,85 382,72 386,65 390,80 396,120 402,150 410,155 418,140 425,148 433,152 440,150 448,160 455,168 462,162 468,155"/>
<polyline class="tc" points="322,165 335,158 350,145 362,120 372,95 380,75 387,85 393,140 398,180 405,178 410,140 415,80 420,56 426,60 432,110 440,170 447,185 455,175 462,160 468,155"/>
<ellipse class="ci" cx="369" cy="106" rx="5.56" ry="7.44"/>
<polyline class="tn" points="589,170 594,140 599,100 604,75 610,85 614,95 620,115 628,118 635,95 641,83 646,100 652,140 658,165 664,150 670,175 678,160 686,130 694,128 700,150 706,170 712,158 720,165 728,158"/>
<polyline class="tc" points="582,66 595,82 605,110 612,132 620,130 632,112 642,102 650,110 658,135 666,165 673,183 682,184 692,172 703,165 715,162 728,160"/>
<ellipse class="ci" cx="614" cy="95" rx="5.56" ry="7.44"/>
<polyline class="tn" points="848,175 853,140 858,110 865,95 872,75 880,62 890,65 900,75 910,85 920,95 935,98 945,100 952,104 960,103 970,106 978,106 985,110"/>
<polyline class="tc" points="845,72 855,72 862,80 870,100 878,130 886,160 895,175 905,178 915,170 925,155 935,148 945,155 955,160 965,158 975,158 985,162"/>
<ellipse class="ci" cx="952" cy="104" rx="5.56" ry="7.44"/>
<polyline class="tn" points="1108,90 1119,101 1130,93 1140,68 1149,61.5 1157.6,73.5 1167,103 1177,153 1182,184.5 1189,171 1199,141 1208,123 1215.6,131 1222.7,145 1230,138 1236,131"/>
<polyline class="tc" points="1102.7,113 1115,118 1126.5,108 1134,78 1141,65.5 1148.7,75 1160,101 1171,143 1178,171 1184,175 1191.6,153 1200.5,133 1208,143 1217,148 1226.5,143 1234,133"/>
<ellipse class="ci" cx="1131.6" cy="116" rx="5.56" ry="7.44"/>
</g>

<!-- DATA ROW 1 -->
<g transform="translate(30,138) scale(0.4498,0.336)">
<polyline class="tn" points="72,185 80,175 88,155 95,150 102,140 110,138 117,150 124,168 128,150 133,110 140,75 147,60 153,95 160,110 170,115 180,112 190,110 198,108 205,118"/>
<polyline class="tc" points="68,85 78,90 88,100 96,110 104,114 112,113 120,110 128,112 134,120 140,130 146,128 152,110 158,88 163,82 168,92 174,118 181,150 188,175 195,178 202,170 205,162"/>
<ellipse class="ci" cx="137" cy="110" rx="5.56" ry="7.44"/>
<polyline class="tn" points="325,150 335,130 345,90 355,75 365,68 372,62 380,68 390,72 400,80 412,100 420,98 428,95 435,88 442,77 450,85 458,95 468,107"/>
<polyline class="tc" points="322,150 330,160 340,150 350,110 358,80 365,68 375,63 385,65 390,75 398,110 405,150 412,170 420,175 430,170 440,172 450,172 460,168 470,158"/>
<ellipse class="ci" cx="435" cy="93" rx="5.56" ry="7.44"/>
<polyline class="tn" points="590,140 598,115 605,100 612,120 618,140 625,110 632,120 640,150 648,120 655,65 662,72 670,80 678,90 683,100 690,70 697,90 705,115 712,100 720,105 728,120"/>
<polyline class="tc" points="585,150 595,130 603,125 612,150 620,178 630,190 640,182 650,152 662,135 675,125 688,115 700,100 712,95 722,90"/>
<ellipse class="ci" cx="625" cy="188" rx="5.56" ry="7.44"/>
<polyline class="tn" points="848,75 855,85 862,80 870,90 878,92 885,95 895,95 900,110 905,120 912,135 920,140 928,150 935,150 940,130 945,120 950,140 958,165 965,182 972,170 980,148 988,145"/>
<polyline class="tc" points="845,88 855,78 862,62 868,60 875,72 882,88 890,90 900,100 908,125 915,148 922,165 930,175 938,170 945,150 952,138 960,148 968,160 975,162 985,155"/>
<ellipse class="ci" cx="870" cy="92" rx="5.56" ry="7.44"/>
<polyline class="tn" points="1108,75 1115,85 1120,95 1125,102 1130,100 1138,98 1145,102 1150,110 1158,120 1165,125 1175,130 1185,138 1195,140 1205,148 1215,150 1225,155 1232,160 1240,175"/>
<polyline class="tc" points="1103,60 1115,70 1125,80 1135,92 1145,100 1155,112 1162,125 1170,140 1180,150 1190,155 1200,158 1210,165 1220,172 1230,180 1240,188"/>
<ellipse class="ci" cx="1147" cy="103" rx="5.56" ry="7.44"/>
<polyline class="tc" points="1362,62 1370,62 1378,70 1385,85 1392,95 1400,100 1408,115 1415,145 1422,175 1430,188 1437,180 1444,150 1451,115 1458,88 1465,90 1472,110 1480,130 1488,145 1495,148 1500,150"/>
</g>

<!-- DATA ROW 2 -->
<g transform="translate(30,214) scale(0.4498,0.336)">
<polyline class="tn" points="70,105 75,115 80,128 85,110 92,100 100,98 108,95 115,90 120,85 123,100 128,110 132,120 138,140 145,160 150,165 158,140 165,125 172,122 178,130 183,140 190,145 198,145 205,148"/>
<polyline class="tc" points="68,85 80,85 92,88 100,95 108,108 115,120 122,135 128,150 135,165 140,175 145,170 152,150 160,135 168,125 175,122 182,128 190,135 198,142 205,150"/>
<ellipse class="ci" cx="175" cy="140" rx="5.56" ry="7.44"/>
<polyline class="tn" points="325,100 330,90 338,80 345,70 355,72 362,78 368,70 375,72 380,65 385,80 390,65 395,95 402,120 410,140 415,120 420,135 425,150 430,165 437,182 445,170 450,175 458,182 465,160 472,152"/>
<polyline class="tc" points="327,65 335,75 342,85 350,80 358,75 365,72 375,68 385,72 392,85 398,120 405,150 410,155 418,135 425,110 432,100 440,110 448,120 455,120 462,112 470,105"/>
<ellipse class="ci" cx="355" cy="72" rx="5.56" ry="7.44"/>
<polyline class="tn" points="585,100 592,95 600,90 608,100 615,102 625,102 635,110 645,112 655,115 662,125 668,140 675,108 682,85 690,95 697,125 703,140 710,150 718,165 725,170"/>
<polyline class="tc" points="585,90 595,75 605,65 615,65 625,80 632,100 640,110 648,125 658,135 668,145 678,155 688,168 695,175 705,180 712,182 720,178 728,180"/>
<ellipse class="ci" cx="697" cy="124" rx="5.56" ry="7.44"/>
<polyline class="tn" points="846,100 850,115 855,130 862,140 870,145 878,145 885,140 892,145 900,140 908,150 915,155 920,145 925,120 930,100 935,85 940,70 947,65 954,68 960,80 968,100 975,125 982,140 988,150"/>
<polyline class="tc" points="844,65 850,65 855,80 860,110 866,140 872,148 878,140 885,120 892,95 900,80 906,100 912,135 918,155 925,120 932,80 940,62 948,65 955,75 962,85 970,100 978,115 985,120"/>
<ellipse class="ci" cx="872" cy="145" rx="5.56" ry="7.44"/>
<polyline class="tn" points="1105,70 1112,80 1120,85 1130,82 1138,90 1145,95 1150,100 1158,110 1165,120 1172,130 1178,150 1185,120 1190,145 1195,155 1200,175 1205,160 1210,150 1215,140 1220,155 1228,180 1235,190 1242,188"/>
<polyline class="tc" points="1103,65 1110,75 1118,85 1125,95 1135,100 1145,100 1152,95 1158,92 1165,85 1172,80 1180,85 1188,95 1195,110 1202,95 1210,80 1218,90 1225,120 1232,150 1240,175 1245,188"/>
<ellipse class="ci" cx="1153" cy="92" rx="5.56" ry="7.44"/>
<polyline class="tn" points="1360,60 1365,100 1372,140 1380,170 1388,160 1395,150 1402,135 1410,155 1418,145 1425,160 1432,170 1440,170 1450,165 1460,160 1470,152 1480,140 1488,130 1495,120 1500,105 1505,110"/>
<polyline class="tc" points="1362,100 1368,100 1375,120 1382,150 1390,175 1395,160 1400,125 1408,110 1415,120 1422,140 1428,160 1435,165 1442,130 1450,95 1458,78 1465,80 1472,90 1480,88 1488,75 1495,65 1505,70"/>
<ellipse class="ci" cx="1403" cy="140" rx="5.56" ry="7.44"/>
</g>

<!-- DATA ROW 3 -->
<g transform="translate(30,290) scale(0.4498,0.336)">
<polyline class="tn" points="70,62 78,62 85,65 92,64 100,70 108,85 113,95 118,120 125,140 132,150 140,160 148,165 155,158 162,148 168,155 175,145 182,160 188,150 195,155 202,150"/>
<polyline class="tc" points="68,68 75,70 82,65 90,62 98,62 105,75 110,85 115,100 120,115 125,125 130,140 138,155 145,170 150,175 158,172 165,168 172,165 180,162 188,168 195,170 202,165"/>
<ellipse class="ci" cx="110" cy="92" rx="5.56" ry="7.44"/>
<polyline class="tn" points="332,128 338,130 345,125 350,133 357,125 362,100 368,58 375,65 380,70 385,85 392,130 398,145 405,148 412,135 418,110 422,75 428,82 432,120 436,160 440,155 445,148 452,140 458,135 465,140 470,128"/>
<polyline class="tc" points="327,80 335,85 345,90 355,95 365,100 375,105 385,115 392,125 400,135 408,148 415,158 422,165 430,168 438,168 445,165 452,170 460,178 468,180"/>
<ellipse class="ci" cx="433" cy="156" rx="5.56" ry="7.44"/>
<polyline class="tn" points="590,170 598,120 605,110 612,140 620,160 628,158 635,160 642,165 650,160 658,165 665,150 672,120 680,100 688,110 695,110 702,95 710,92 718,88 725,92 730,93"/>
<polyline class="tc" points="588,185 595,160 605,110 612,80 618,62 625,95 632,125 638,100 645,110 652,115 658,100 662,90 668,165 675,180 682,180 690,180 698,145 703,115 708,90 715,130 722,170 725,100 728,150"/>
<ellipse class="ci" cx="717" cy="88" rx="5.56" ry="7.44"/>
<polyline class="tn" points="848,75 853,100 858,110 862,100 868,95 875,100 882,110 888,95 895,80 900,65 905,60 910,80 915,100 922,125 930,150 937,160 945,150 952,165 960,160 967,145 975,165 983,150 988,165"/>
<polyline class="tc" points="845,190 852,175 860,150 868,125 875,105 882,95 888,85 892,95 898,120 905,140 912,155 920,160 928,160 935,165 942,158 950,155 958,150 965,140 972,130 980,135 987,150"/>
<ellipse class="ci" cx="888" cy="115" rx="5.56" ry="7.44"/>
<polyline class="tn" points="1103,185 1108,150 1113,125 1118,120 1125,122 1130,120 1135,118 1142,110 1148,105 1155,95 1160,75 1165,68 1172,82 1178,85 1185,90 1192,98 1198,100 1205,92 1212,95 1220,90 1228,82 1235,72 1242,65 1248,75"/>
<polyline class="tc" points="1102,150 1110,150 1118,155 1125,140 1132,125 1140,125 1148,120 1155,128 1162,145 1170,160 1178,150 1185,130 1192,115 1200,108 1208,100 1215,90 1222,85 1230,80 1238,78 1245,75"/>
<ellipse class="ci" cx="1219" cy="88" rx="5.56" ry="7.44"/>
<polyline class="tn" points="1362,90 1368,98 1375,110 1382,130 1388,135 1395,125 1402,100 1408,85 1415,75 1420,80 1425,95 1430,120 1435,145 1440,148 1447,150 1455,140 1462,150 1470,148 1478,152 1485,150"/>
<polyline class="tc" points="1362,80 1372,80 1382,80 1392,78 1400,78 1408,82 1415,90 1422,105 1430,118 1438,135 1445,145 1452,150 1460,160 1468,160 1475,158 1482,165 1490,180 1497,190"/>
<ellipse class="ci" cx="1473" cy="145" rx="5.56" ry="7.44"/>
</g>

<!-- DATA ROW 4 -->
<g transform="translate(30,366) scale(0.4498,0.336)">
<polyline class="tn" points="75,102 80,95 85,90 92,85 100,80 108,78 113,72 118,68 125,90 130,120 135,150 140,170 145,180 152,182 160,175 168,158 175,148 185,150 195,152 203,155"/>
<polyline class="tc" points="68,118 78,118 88,115 95,110 102,100 108,88 113,75 118,60 122,72 128,100 133,140 138,170 143,180 148,178 155,165 162,125 168,118 175,118 185,117 195,118 203,120"/>
<ellipse class="ci" cx="90" cy="92" rx="5.56" ry="7.44"/>
<polyline class="tn" points="330,82 338,72 345,80 352,85 358,90 365,78 372,72 378,65 385,80 390,85 397,110 403,120 410,128 418,120 425,110 432,108 440,125 448,140 452,170 456,178"/>
<polyline class="tc" points="327,62 337,62 345,65 352,75 360,80 368,75 375,68 382,75 390,95 398,150 405,175 412,168 418,140 425,118 432,112 440,125 448,150 455,165 462,130 470,105"/>
<ellipse class="ci" cx="352" cy="95" rx="5.56" ry="7.44"/>
<polyline class="tn" points="588,180 595,165 602,145 610,130 617,128 622,118 628,72 632,68 638,100 645,96 650,90 655,78 660,72 665,85 670,110 675,140 680,160"/>
<polyline class="tc" points="585,185 595,175 605,150 612,120 620,90 625,70 630,62 635,75 640,110 645,145 652,170 660,180 668,182 678,180 688,178 698,178 708,180 718,183 728,185"/>
<ellipse class="ci" cx="647" cy="100" rx="5.56" ry="7.44"/>
<polyline class="tn" points="845,125 850,105 858,98 865,95 872,92 880,78 888,72 895,72 902,75 908,70 915,68 920,65 925,85 930,80 935,75 940,78 945,65 950,60 955,95 962,140 968,180 975,185 980,190"/>
<polyline class="tc" points="845,125 852,110 860,100 868,110 875,118 882,115 890,108 897,95 905,80 912,68 918,65 925,75 932,85 940,90 948,88 955,95 962,115 968,130 975,145 980,160 988,170"/>
<ellipse class="ci" cx="948" cy="68" rx="5.56" ry="7.44"/>
<polyline class="tn" points="1105,125 1110,130 1115,120 1120,130 1125,125 1130,130 1135,125 1140,120 1148,130 1155,100 1160,85 1165,80 1170,100 1175,130 1180,160 1185,165 1192,162 1198,168 1205,160 1210,165 1213,180 1218,162 1225,165 1232,160 1240,168 1245,170"/>
<polyline class="tc" points="1103,102 1110,102 1118,100 1125,95 1132,88 1140,95 1148,105 1155,115 1160,140 1165,165 1170,178 1178,178 1188,178 1198,175 1208,170 1218,168 1228,170 1240,168"/>
<ellipse class="ci" cx="1148" cy="128" rx="5.56" ry="7.44"/>
<polyline class="tn" points="1362,85 1370,90 1378,85 1385,70 1393,65 1400,72 1406,68 1412,75 1420,100 1427,125 1433,150 1440,155 1447,130 1453,110 1460,95 1466,105 1472,120 1478,115 1485,135 1492,150 1498,170 1505,152"/>
<polyline class="tc" points="1362,78 1370,80 1378,70 1385,60 1392,62 1400,70 1408,72 1415,80 1420,110 1428,140 1435,160 1442,150 1450,120 1457,90 1463,80 1470,100 1477,130 1485,155 1492,175 1498,185 1505,178"/>
<ellipse class="ci" cx="1400" cy="68" rx="5.56" ry="7.44"/>
</g>

<!-- DATA ROW 5 -->
<g transform="translate(30,442) scale(0.4498,0.336)">
<polyline class="tn" points="72,155 75,175 80,180 88,185 95,165 102,135 108,100 113,80 118,70 123,85 128,110 133,125 140,120 145,123 148,100 152,118 158,105 163,112 170,105 175,95 180,110 186,112 192,130 197,120 203,110"/>
<polyline class="tc" points="68,122 78,122 88,120 95,115 102,105 108,85 113,70 118,60 123,68 128,90 135,120 140,160 145,175 150,165 155,125 160,90 167,65 172,72 178,100 185,120 192,128 200,132"/>
<ellipse class="ci" cx="114" cy="78" rx="5.56" ry="7.44"/>
<polyline class="tc" points="327,148 337,148 345,145 352,130 360,115 368,108 375,100 380,90 386,72 390,75 395,100 400,130 405,160 410,180 418,185 425,175 432,165 440,160 448,168 455,170 462,168 470,162"/>
<polyline class="tn" points="587,180 595,165 602,150 610,155 618,165 625,172 632,165 640,160 648,155 655,145 662,140 670,130 678,125 685,120 692,108 700,95 708,90 715,88 722,85 730,80"/>
<polyline class="tc" points="585,62 595,70 602,85 610,100 618,118 625,125 632,128 638,122 642,135 648,150 652,180 656,185 662,160 668,130 672,140 678,165 685,178 692,160 698,130 705,95 712,88 718,110 722,130 728,120 730,115"/>
<ellipse class="ci" cx="628" cy="175" rx="5.56" ry="7.44"/>
<polyline class="tc" points="845,150 852,140 858,120 865,95 870,70 875,62 880,75 886,100 892,120 898,130 905,128 912,145 918,135 924,110 930,80 935,62 940,60 946,75 952,100 958,125 965,150 970,175 975,185 980,175 983,160"/>
<polyline class="tn" points="1105,70 1112,70 1120,72 1128,68 1135,72 1142,70 1150,65 1155,80 1160,90 1163,78 1166,70 1172,80 1178,100 1185,130 1190,160 1195,140 1200,115 1205,100 1210,90 1218,110 1225,115 1232,108 1238,98"/>
<polyline class="tc" points="1103,72 1112,72 1120,75 1128,85 1135,105 1142,125 1150,145 1157,160 1164,175 1170,185 1178,180 1186,160 1195,145 1205,148 1215,158 1225,165 1232,162 1240,150 1245,125"/>
<ellipse class="ci" cx="1167" cy="82" rx="5.56" ry="7.44"/>
<polyline class="tn" points="1365,100 1370,85 1375,75 1382,80 1388,65 1392,58 1398,65 1405,62 1410,75 1415,90 1420,100 1428,115 1435,130 1442,145 1450,160 1458,165 1465,170 1470,175 1478,180 1485,170 1490,145"/>
<polyline class="tc" points="1362,60 1370,70 1378,85 1385,90 1392,98 1400,110 1410,118 1418,130 1425,150 1432,170 1440,185 1448,178 1455,160 1462,148 1470,155 1478,168 1485,175 1492,180 1500,185"/>
<ellipse class="ci" cx="1475" cy="172" rx="5.56" ry="7.44"/>
</g>

<text x="2" y="560" font-size="10" textLength="295" lengthAdjust="spacingAndGlyphs">Более темная линия - это динамика цен на недвижимость</text>
<text x="2" y="575" font-size="10" textLength="515" lengthAdjust="spacingAndGlyphs">Красные линии показывают два кризисных события: третий квартал 2007 и третий квартал 2008 года</text>
</svg>
</body></html>
